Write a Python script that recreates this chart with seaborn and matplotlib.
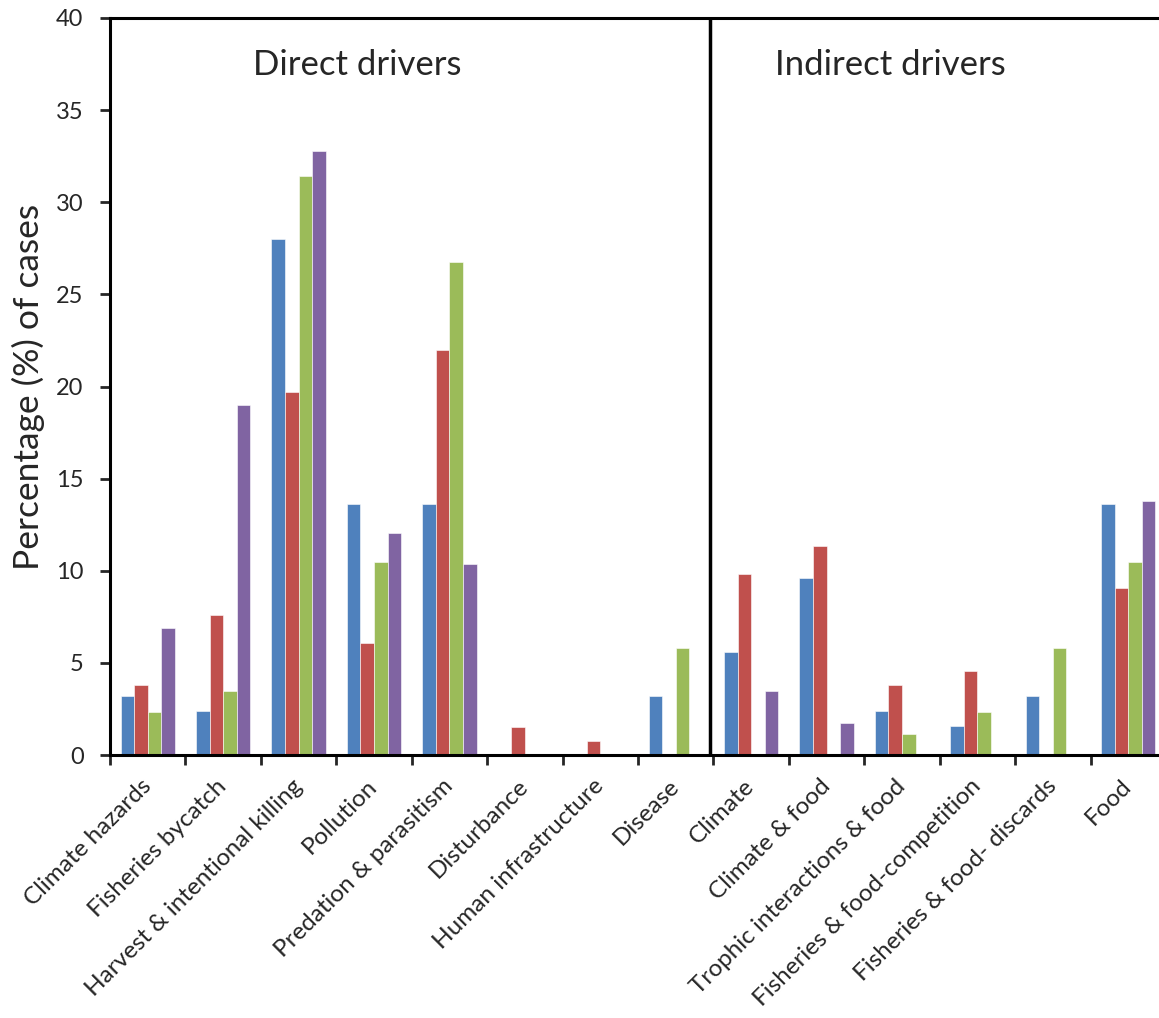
import numpy as np
import pandas as pd
import matplotlib.pyplot as plt
import seaborn as sns

categorias = ['Climate hazards', 'Fisheries bycatch', 'Harvest & intentional killing',
              'Pollution', 'Predation & parasitism', 'Disturbance', 'Human infrastructure',
              'Disease', 'Climate', 'Climate & food', 'Trophic interactions & food',
              'Fisheries & food-competition', 'Fisheries & food- discards', 'Food']
series = ['Serie 1', 'Serie 2', 'Serie 3', 'Serie 4']

serie1 = [3.2, 2.4, 28.0, 13.6, 13.6, 0, 0, 3.2, 5.6, 9.6, 2.4, 1.6, 3.2, 13.6]
serie2 = [3.79, 7.58, 19.7, 6.06, 21.97, 1.52, 0.76, 0, 9.85, 11.36, 3.79, 4.55, 0, 9.09]
serie3 = [2.33, 3.49, 31.4, 10.47, 26.74, 0, 0, 5.81, 0, 0, 1.16, 2.33, 5.81, 10.47]
serie4 = [6.9, 18.97, 32.76, 12.07, 10.34, 0, 0, 0, 3.45, 1.72, 0, 0, 0, 13.79]

colores = ['#4F81BD', '#C0504D', '#9BBB59', '#8064A2']

datos = pd.DataFrame({
    'driver': categorias * 4,
    'serie': np.repeat(series, len(categorias)),
    'pct': serie1 + serie2 + serie3 + serie4,
})

sns.set_style('white')
plt.rcParams['font.family'] = ['Lato', 'DejaVu Sans']

fig = plt.figure(figsize=(11.59, 10.18), dpi=100)
# el eje se sale un poco por la derecha, como en la imagen original
ax = fig.add_axes([110 / 1159, 1 - 755 / 1018, 1056 / 1159, 737 / 1018])

sns.barplot(data=datos, x='driver', y='pct', hue='serie', order=categorias,
            hue_order=series, palette=colores, width=0.72, saturation=1,
            edgecolor='white', linewidth=0.4, legend=False, ax=ax)

ax.set_ylim(0, 40)
ax.set_xlim(-0.5, 13.5)
ax.set_yticks(range(0, 41, 5))
ax.tick_params(axis='y', which='major', length=7, width=2, direction='out',
               labelsize=17, left=True, pad=12)

ax.set_xticks(range(len(categorias)))
ax.set_xticklabels(categorias, rotation=45, ha='right', va='center',
                   rotation_mode='anchor', fontsize=17.5)
ax.tick_params(axis='x', which='major', length=0, pad=20)
ax.set_xticks(np.arange(-0.5, 14, 1), minor=True)
ax.tick_params(axis='x', which='minor', length=7, width=2, direction='out', bottom=True)

for lado in ['left', 'bottom', 'top']:
    ax.spines[lado].set_linewidth(2.2)
    ax.spines[lado].set_color('black')
ax.spines['right'].set_visible(False)

# linea divisoria entre drivers directos e indirectos
ax.axvline(7.45, color='black', linewidth=2.5)

ax.text(2.78, 37.45, 'Direct drivers', ha='center', va='center', fontsize=25)
ax.text(9.84, 37.45, 'Indirect drivers', ha='center', va='center', fontsize=25)

ax.set_xlabel('')
ax.set_ylabel('Percentage (%) of cases', fontsize=25.5)
ax.yaxis.set_label_coords(-0.0616, 0.5)

plt.savefig('out.png', dpi=100)
